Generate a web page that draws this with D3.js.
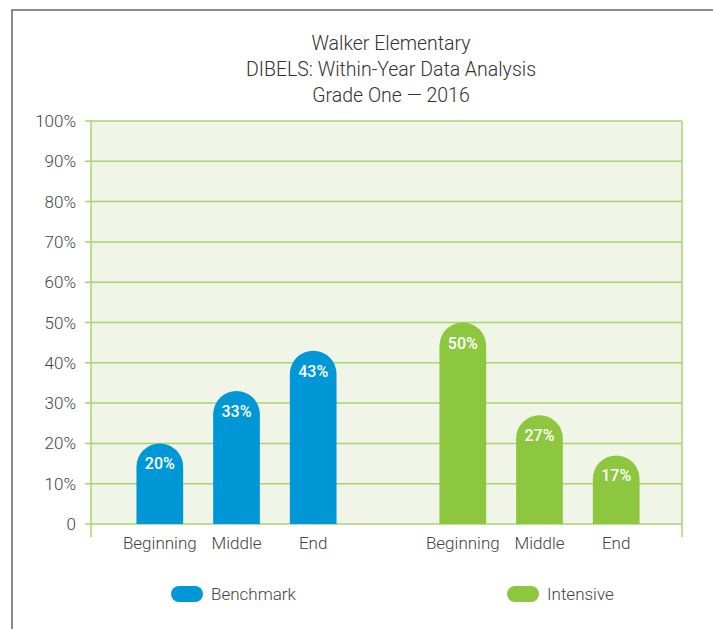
<!DOCTYPE html>
<html>
  <head>
    <meta charset="utf-8" />
    <title>DIBELS chart</title>
    <script type="text/javascript" src="https://d3js.org/d3.v7.min.js"></script>
    <style>
      body { margin: 0; background: #fff; }
      text { font-family: Roboto, "Open Sans", sans-serif; font-weight: 300; }
    </style>
  </head>
  <body>
    <div id="chart"></div>
    <script>
// data
const groups = ["Benchmark", "Intensive"];
const phases = ["Beginning", "Middle", "End"];
const benchmark = [20, 33, 43];
const intensive = [50, 27, 17];
const yTicks = [0, 10, 20, 30, 40, 50, 60, 70, 80, 90, 100];
const titleLines = ["Walker Elementary", "DIBELS: Within-Year Data Analysis", "Grade One \u2014 2016"];
const colors = { Benchmark: "#0097d6", Intensive: "#8dc63f" };

const series = { Benchmark: benchmark, Intensive: intensive };

const W = 713, H = 629;
const plot = { left: 91, right: 682, top: 121, bottom: 524 };

const svg = d3.select("#chart").append("svg")
  .attr("width", W).attr("height", H);

// outer frame
svg.append("rect")
  .attr("x", 12).attr("y", 10)
  .attr("width", 800).attr("height", 700)
  .attr("fill", "none").attr("stroke", "#666").attr("stroke-width", 1.5);

// title
svg.append("g").selectAll("text")
  .data(titleLines)
  .join("text")
  .attr("x", 391)
  .attr("y", (d, i) => 50 + i * 26)
  .attr("text-anchor", "middle")
  .attr("font-size", 19.5)
  .attr("fill", "#333")
  .text(d => d);

const y = d3.scaleLinear().domain([0, 100]).range([plot.bottom, plot.top]);
const x0 = d3.scaleBand().domain(groups).range([85, 691]).paddingInner(0);
const x1 = d3.scaleBand().domain(phases).range([0, x0.bandwidth()])
  .paddingInner(0.391).paddingOuter(0.671);

// plot background
svg.append("rect")
  .attr("x", plot.left).attr("y", plot.top)
  .attr("width", plot.right - plot.left).attr("height", plot.bottom - plot.top)
  .attr("fill", "#f0f5e8");

// gridlines
svg.append("g").selectAll("line")
  .data(yTicks)
  .join("line")
  .attr("x1", 85).attr("x2", plot.right)
  .attr("y1", d => y(d)).attr("y2", d => y(d))
  .attr("stroke", "#a6d46f").attr("stroke-width", 1.5);

// vertical edges
svg.append("g").selectAll("line")
  .data([plot.left, plot.right])
  .join("line")
  .attr("x1", d => d).attr("x2", d => d)
  .attr("y1", plot.top).attr("y2", 537)
  .attr("stroke", "#a6d46f").attr("stroke-width", 1.5);

// y labels
svg.append("g").selectAll("text")
  .data(yTicks)
  .join("text")
  .attr("x", 76)
  .attr("y", d => y(d) + 6)
  .attr("text-anchor", "end")
  .attr("font-size", 17)
  .attr("fill", "#444")
  .text(d => d === 0 ? "0" : d + "%");

// bars with rounded tops
function barPath(x, w, top, base) {
  const r = w / 2;
  return `M${x},${base}V${top + r}A${r},${r} 0 0 1 ${x + w},${top + r}V${base}Z`;
}

const bw = x1.bandwidth();
groups.forEach(g => {
  const gx = x0(g);
  const rows = phases.map((p, i) => ({ phase: p, value: series[g][i] }));
  const grp = svg.append("g").attr("transform", `translate(${gx},0)`);

  grp.selectAll("path")
    .data(rows)
    .join("path")
    .attr("d", d => barPath(x1(d.phase), bw, y(d.value), y(0)))
    .attr("fill", colors[g]);

  grp.selectAll("text.val")
    .data(rows)
    .join("text")
    .attr("class", "val")
    .attr("x", d => x1(d.phase) + bw / 2)
    .attr("y", d => y(d.value) + 26)
    .attr("text-anchor", "middle")
    .attr("font-size", 16)
    .style("font-weight", 500)
    .attr("fill", "#fff")
    .text(d => d.value + "%");

  grp.selectAll("text.cat")
    .data(rows)
    .join("text")
    .attr("class", "cat")
    .attr("x", d => x1(d.phase) + bw / 2)
    .attr("y", 549)
    .attr("text-anchor", "middle")
    .attr("font-size", 17)
    .attr("fill", "#444")
    .text(d => d.phase);
});

// legend
const legendX = { Benchmark: 171, Intensive: 507 };
const leg = svg.append("g").selectAll("g")
  .data(groups)
  .join("g")
  .attr("transform", d => `translate(${legendX[d]},586)`);
leg.append("rect")
  .attr("width", 32).attr("height", 16).attr("rx", 8)
  .attr("fill", d => colors[d]);
leg.append("text")
  .attr("x", 40).attr("y", 14)
  .attr("font-size", 17)
  .attr("fill", "#444")
  .text(d => d);
    </script>
  </body>
</html>
